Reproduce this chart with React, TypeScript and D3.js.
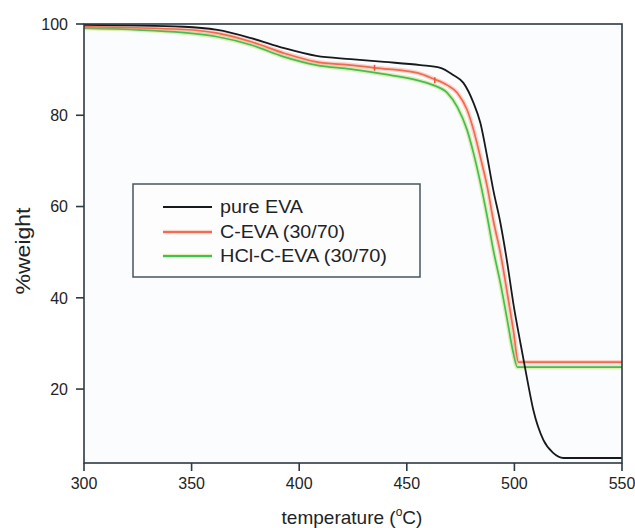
import React from "react";
import * as d3 from "d3";

const xTicks = [300, 350, 400, 450, 500, 550];
const yTicks = [20, 40, 60, 80, 100];

const pureTemps = [300, 346.5, 362, 377.7, 393, 408, 424, 439.5, 456.3, 465.6, 471.6, 476.3, 481, 484.2, 487.4, 490.2, 493.5, 496.7, 499.5, 502.8, 506, 508.8, 513.5, 518, 522.8, 550];
const pureWeights = [99.8, 99.4, 98.7, 96.9, 94.7, 93.0, 92.3, 91.7, 91.0, 90.4, 88.8, 87.1, 82.7, 78.3, 70.8, 63.6, 56.4, 47.6, 38.8, 30.1, 22.0, 15.4, 8.8, 6.0, 4.9, 4.9];

const cTemps = [300, 346.5, 362, 377.7, 393, 408, 424, 435, 455, 462.3, 468.8, 473.5, 478, 481, 484.2, 487.4, 490.2, 493.5, 496.7, 499.5, 501.9, 550];
const cWeights = [99.4, 98.8, 98.0, 96.1, 93.6, 91.7, 91.0, 90.4, 89.3, 88.0, 86.6, 84.9, 81.2, 76.8, 70.8, 64.3, 57.0, 49.8, 41.0, 32.9, 25.9, 25.9];

const hclTemps = [300, 346.5, 362, 377.7, 393, 408, 424, 439.5, 455.5, 462.3, 468.8, 473.5, 478, 481, 484.2, 487.4, 490.2, 493.5, 496.7, 499.5, 501.4, 550];
const hclWeights = [99.1, 98.1, 97.2, 95.4, 92.8, 91.0, 90.1, 89.0, 87.6, 86.6, 84.9, 81.8, 76.8, 71.7, 65.2, 57.7, 50.5, 43.2, 35.1, 27.9, 24.8, 24.8];

const cMarkerTemps = [435, 463];
const cMarkerWeights = [90.4, 87.7];

const seriesNames = ["pure EVA", "C-EVA (30/70)", "HCl-C-EVA (30/70)"];
const seriesColors = ["#161a1d", "#f26a4f", "#3fbf5a"];
const glowColors = ["rgba(0,0,0,0)", "rgba(246,140,115,0.35)", "rgba(200,220,90,0.45)"];
const legendTextWidths = [83, 125, 167];

const W = 635, H = 528;
const L = 84, R = 622, T = 24, B = 463;
const FONT = "'Liberation Sans', Arial, Helvetica, sans-serif";
const AXIS = "#2c3a42";
const TEXT = "#1e2326";

export default function App() {
  const x = d3.scaleLinear().domain([300, 550]).range([L, R]);
  const y = d3.scaleLinear().domain([3.8, 100]).range([B, T]);
  const line = d3
    .line<[number, number]>()
    .x((d) => x(d[0]))
    .y((d) => y(d[1]))
    .curve(d3.curveMonotoneX);

  const series = [
    { t: pureTemps, w: pureWeights },
    { t: cTemps, w: cWeights },
    { t: hclTemps, w: hclWeights },
  ].map((s, i) => ({
    d: line(s.t.map((t, k) => [t, s.w[k]] as [number, number])) || "",
    color: seriesColors[i],
    glow: glowColors[i],
  }));

  const legendRows = [207, 232, 256];

  return (
    <svg
      width={W}
      height={H}
      style={{ position: "absolute", left: 0, top: 0, background: "#ffffff" }}
      fontFamily={FONT}
    >
      <rect x={L} y={T} width={R - L} height={B - T} fill="#fbfcfe" />
      {/* series: draw green, red, black (black on top) */}
      {[2, 1, 0].map((i) => (
        <g key={i}>
          {i > 0 && (
            <path d={series[i].d} fill="none" stroke={series[i].glow} strokeWidth={4.5} />
          )}
          <path d={series[i].d} fill="none" stroke={series[i].color} strokeWidth={i === 0 ? 1.8 : 1.7} />
        </g>
      ))}
      {cMarkerTemps.map((t, k) => (
        <line
          key={k}
          x1={x(t)}
          x2={x(t)}
          y1={y(cMarkerWeights[k]) - 3}
          y2={y(cMarkerWeights[k]) + 3}
          stroke="#e8553a"
          strokeWidth={1.5}
        />
      ))}
      {/* frame */}
      <rect x={L} y={T} width={R - L} height={B - T} fill="none" stroke={AXIS} strokeWidth={1.6} />
      {/* x ticks */}
      {xTicks.map((t) => (
        <g key={t}>
          <line x1={x(t)} x2={x(t)} y1={B} y2={B + 8} stroke={AXIS} strokeWidth={1.6} />
          <text x={x(t)} y={489} textAnchor="middle" fontSize={16} fill={TEXT}>
            {t}
          </text>
        </g>
      ))}
      {/* y ticks */}
      {yTicks.map((v) => (
        <g key={v}>
          <line x1={L - 8} x2={L} y1={y(v)} y2={y(v)} stroke={AXIS} strokeWidth={1.6} />
          <text x={68} y={y(v)} dy="0.36em" textAnchor="end" fontSize={16} fill={TEXT}>
            {v}
          </text>
        </g>
      ))}
      {/* axis titles */}
      <text x={352} y={524} textAnchor="middle" fontSize={19} fill={TEXT}>
        temperature (
        <tspan fontSize={12} dy={-8}>o</tspan>
        <tspan dy={8}>C)</tspan>
      </text>
      <text
        transform={`translate(30,251) rotate(-90)`}
        textAnchor="middle"
        fontSize={20}
        fill={TEXT}
        textLength={87}
        lengthAdjust="spacingAndGlyphs"
      >
        %weight
      </text>
      {/* legend */}
      <rect x={133} y={184} width={287} height={93} fill="#fdfdfe" stroke="#45555e" strokeWidth={1.5} />
      {seriesNames.map((n, i) => (
        <g key={n}>
          {i > 0 && (
            <line x1={163} x2={212} y1={legendRows[i]} y2={legendRows[i]} stroke={glowColors[i]} strokeWidth={4.5} />
          )}
          <line x1={163} x2={212} y1={legendRows[i]} y2={legendRows[i]} stroke={seriesColors[i]} strokeWidth={1.8} />
          <text
            x={220}
            y={legendRows[i]}
            dy="0.36em"
            fontSize={18}
            fill={TEXT}
            textLength={legendTextWidths[i]}
            lengthAdjust="spacingAndGlyphs"
          >
            {n}
          </text>
        </g>
      ))}
    </svg>
  );
}
